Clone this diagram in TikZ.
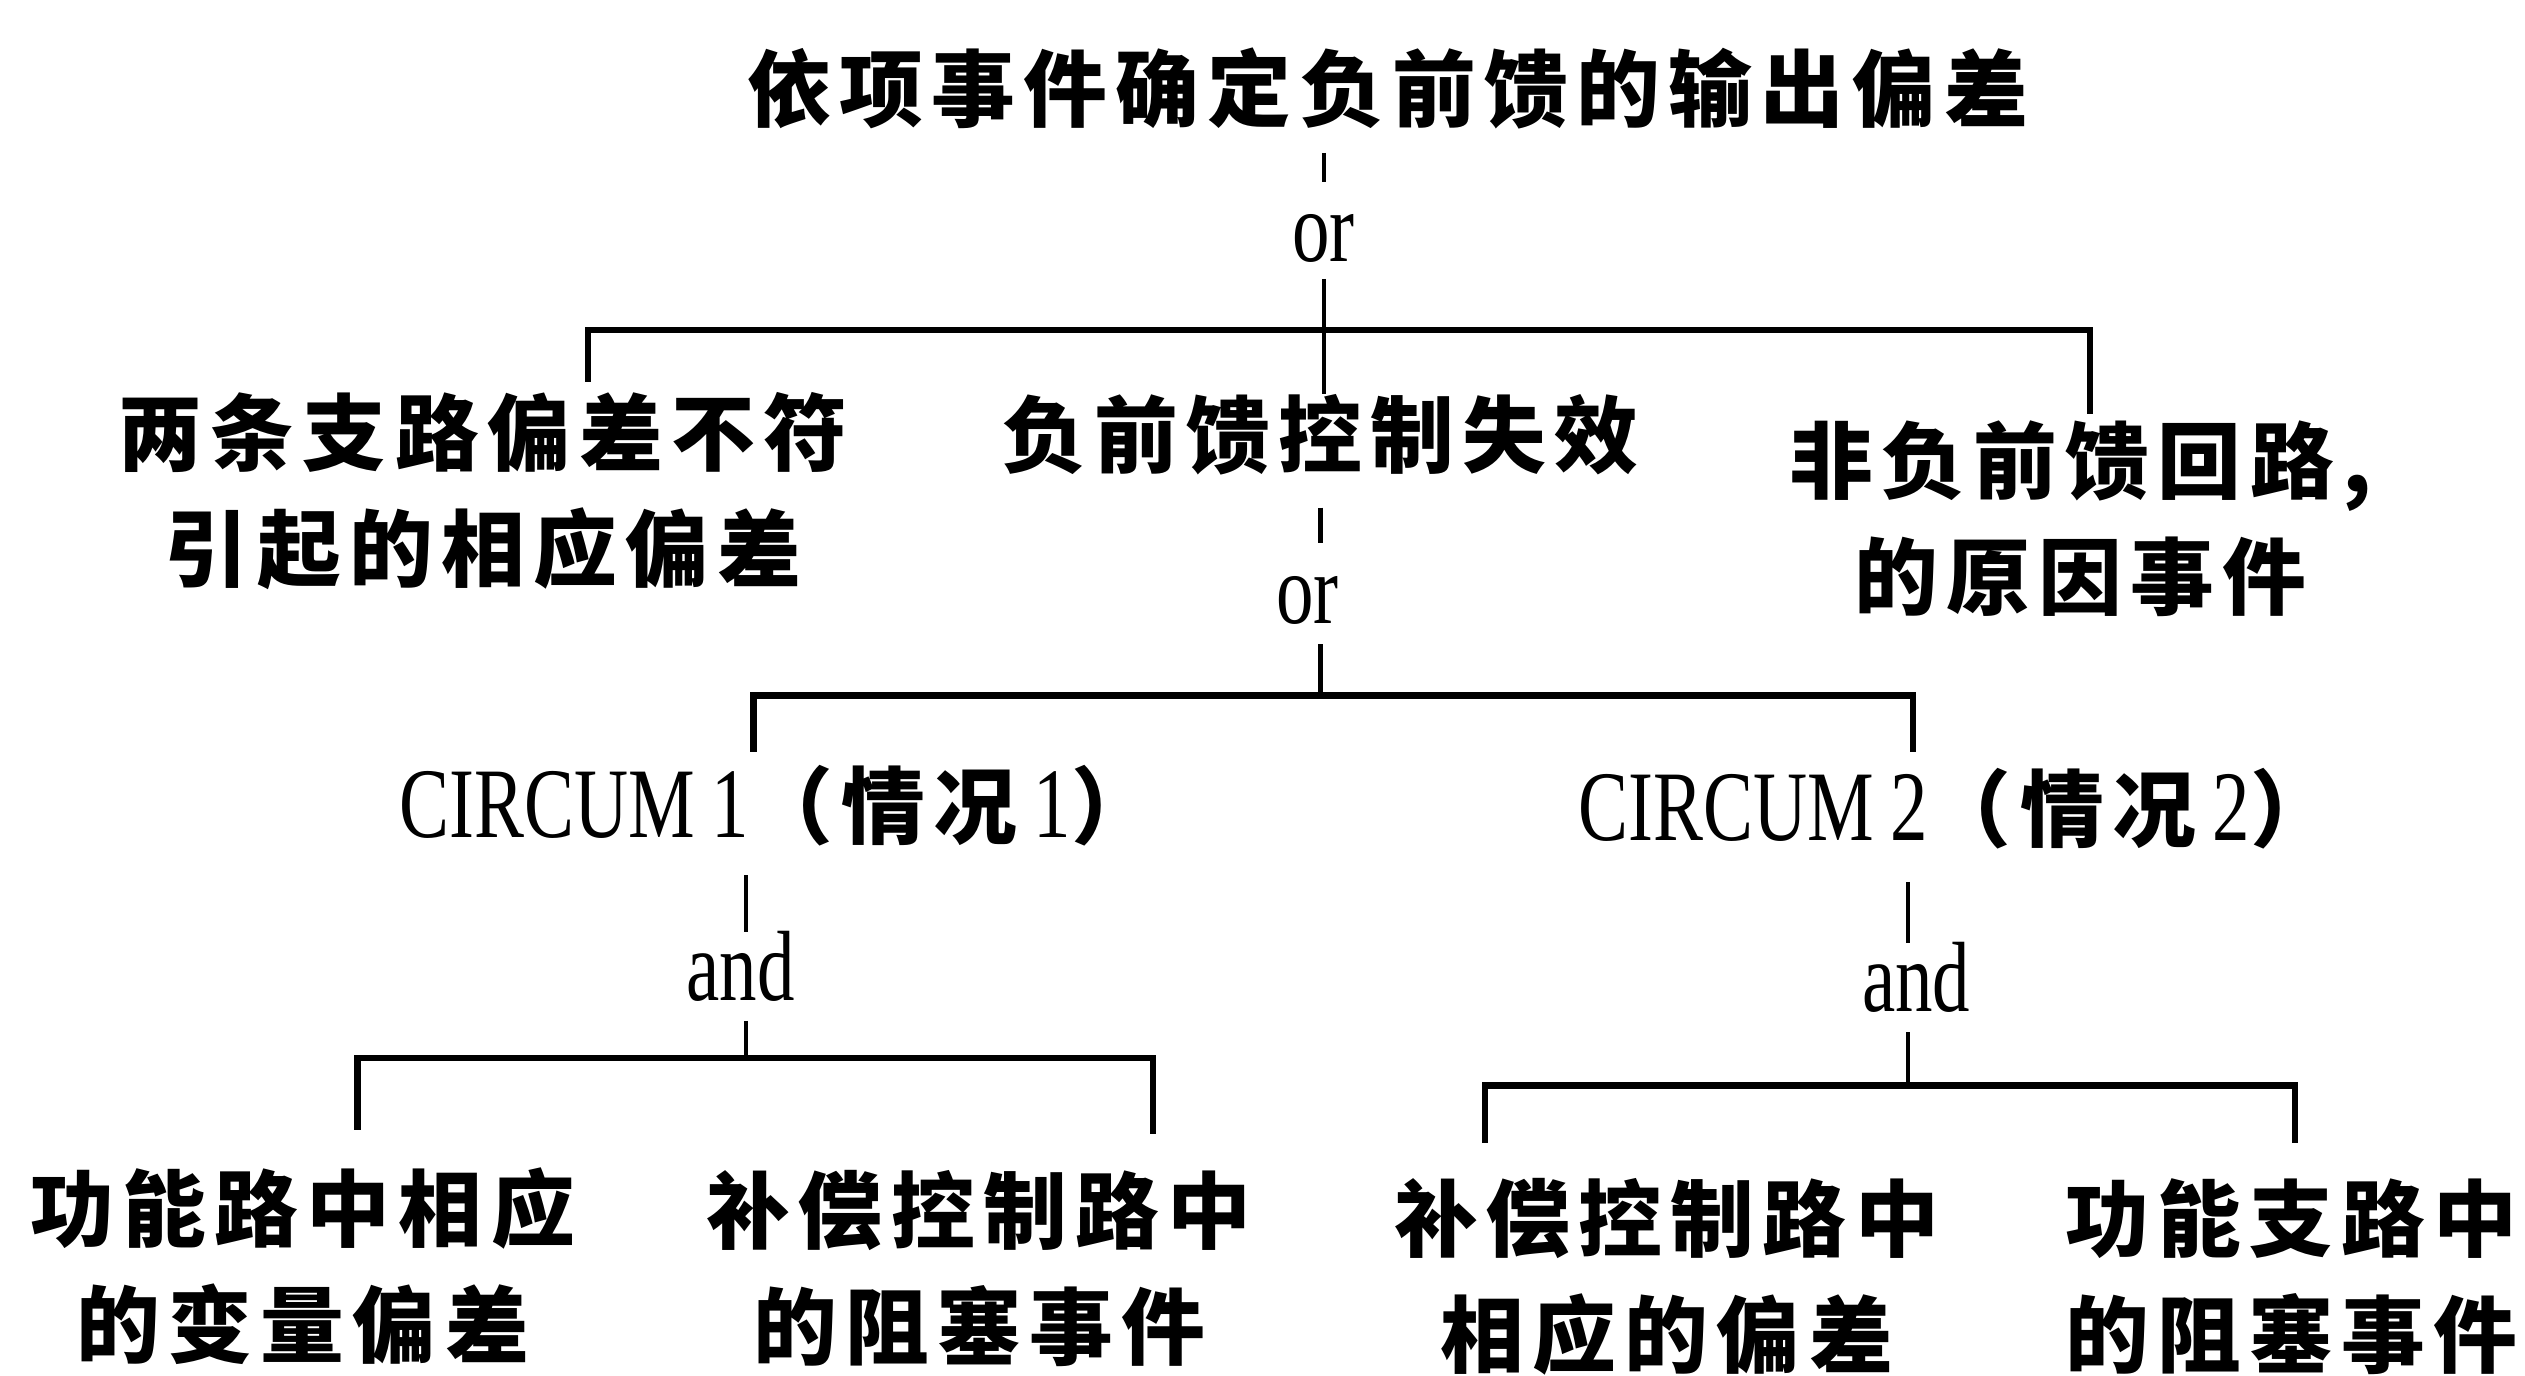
\documentclass[tikz,border=0pt]{standalone}
\usepackage{fontspec}
\setmainfont{Liberation Serif}
\newfontfamily\cjk[LetterSpace=10]{Noto Sans CJK SC}
\newfontfamily\latf[FakeStretch=0.75]{Liberation Serif}
\tikzset{
  zh/.style={inner sep=0pt, align=center, font=\fontsize{52}{72}\selectfont\cjk\bfseries},
  lat/.style={inner sep=0pt, font=\fontsize{62}{70}\selectfont\latf},
  bar/.style={line width=4pt, line cap=rect},
  vl/.style={line width=2.5pt}
}
\begin{document}
\begin{tikzpicture}[x=1pt,y=-1pt]
\path[use as bounding box, fill=white] (0,0) rectangle (1568,854);
% nodes
\node[zh] (top) at (862,55) {依项事件确定负前馈的输出偏差};
\node[lat] (or1) at (822,148) {or};
\node[zh] (a1) at (300,305) {两条支路偏差不符\\引起的相应偏差};
\node[zh] (a2) at (820,270) {负前馈控制失效};
\node[zh] (a3) at (1292,322) {非负前馈回路,\\的原因事件};
\node[lat] (or2) at (812,373) {or};
\node[lat, anchor=base west] (c1) at (248,520) {CIRCUM\,1{\fontsize{52}{60}\selectfont\cjk\bfseries（情况}\,1{\fontsize{52}{60}\selectfont\cjk\bfseries）}};
\node[lat, anchor=base west] (c2) at (980,522) {CIRCUM\,2{\fontsize{52}{60}\selectfont\cjk\bfseries（情况}\,2{\fontsize{52}{60}\selectfont\cjk\bfseries）}};
\node[lat] (and1) at (460,600) {and};
\node[lat] (and2) at (1190,607) {and};
\node[zh] (b1) at (188,786) {功能路中相应\\的变量偏差};
\node[zh] (b2) at (608,788) {补偿控制路中\\的阻塞事件};
\node[zh] (b3) at (1035,793) {补偿控制路中\\相应的偏差};
\node[zh] (b4) at (1423,793) {功能支路中\\的阻塞事件};
% junction coordinates
\coordinate (j1) at (822,205);
\coordinate (j2) at (820,432);
\coordinate (j3) at (463,657);
\coordinate (j4) at (1185,674);
% top level
\draw[vl] (822,95) -- (822,113);
\draw[vl] (j1 |- or1.south) ++(0,10) -- (j1);
\draw[bar] (365,235) -- (365,205) -- (1298,205) -- (1298,255);
\draw[vl] (j1) -- (j1 |- a2.north);
% second level
\draw[vl] (j2 |- a2.south) ++(0,20) -- ++(0,22);
\draw[vl] (j2 |- or2.south) ++(0,12) -- (j2);
\draw[bar] (468,465) -- (468,432) -- (1188,432) -- (1188,465);
% CIRCUM 1
\draw[vl] (j3 |- c1.south) ++(0,18) -- ++(0,35);
\draw[vl] (j3 |- and1.south) ++(0,12) -- (j3);
\draw[bar] (222,700) -- (222,657) -- (716,657) -- (716,702);
% CIRCUM 2
\draw[vl] (j4 |- c2.south) ++(0,20) -- ++(0,38);
\draw[vl] (j4 |- and2.south) ++(0,12) -- (j4);
\draw[bar] (922,708) -- (922,674) -- (1425,674) -- (1425,708);
\end{tikzpicture}
\end{document}
